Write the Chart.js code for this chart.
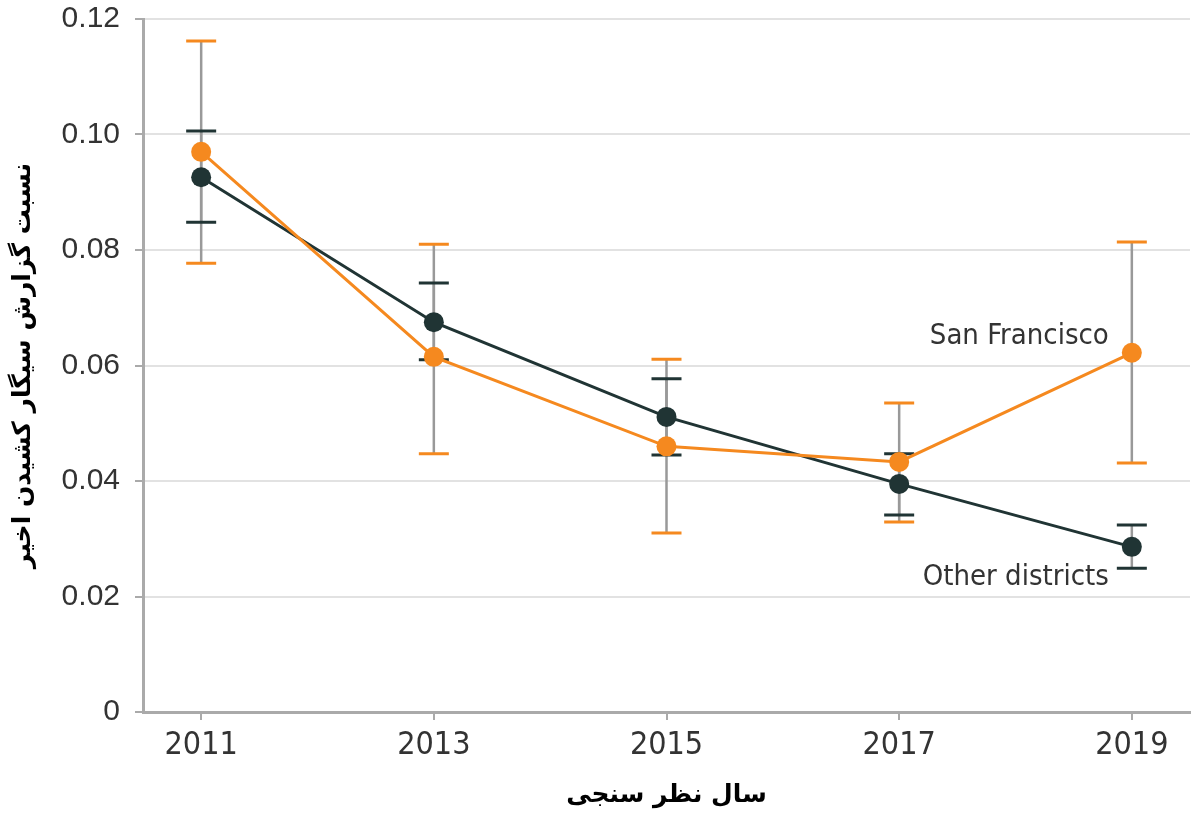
<!DOCTYPE html>
<html>
<head>
<meta charset="utf-8">
<script src="https://cdn.jsdelivr.net/npm/chart.js@4/dist/chart.umd.min.js"></script>
<style>
  body { margin: 0; background: #fff; }
  #wrap { width: 1200px; height: 824px; position: relative; }
</style>
</head>
<body>
<div id="wrap"><canvas id="chart"></canvas></div>
<script>
// survey years
const years = [2011, 2013, 2015, 2017, 2019];

// San Francisco
const sfValues = [0.097, 0.0615, 0.046, 0.0433, 0.0622];
const sfLow    = [0.0777, 0.0447, 0.031, 0.0329, 0.0431];
const sfHigh   = [0.1162, 0.081, 0.0611, 0.0535, 0.0814];

// Other districts
const otherValues = [0.0926, 0.0675, 0.0511, 0.0395, 0.0286];
const otherLow    = [0.0848, 0.061, 0.0445, 0.0341, 0.0249];
const otherHigh   = [0.1006, 0.0743, 0.0577, 0.0447, 0.0324];

const yTicks = [0, 0.02, 0.04, 0.06, 0.08, 0.10, 0.12];

const ORANGE = '#f5891f';
const DARK = '#203434';

const toPoints = vals => years.map((y, i) => ({ x: y, y: vals[i] }));

// error bars: gray stem, caps in series colour
const errorBars = {
  id: 'errorBars',
  beforeDatasetsDraw(chart) {
    const { ctx, scales: { x, y } } = chart;
    const sets = [
      { lo: sfLow, hi: sfHigh, color: ORANGE },
      { lo: otherLow, hi: otherHigh, color: DARK }
    ];
    ctx.save();
    sets.forEach(s => {
      years.forEach((yr, i) => {
        const px = x.getPixelForValue(yr);
        const top = y.getPixelForValue(s.hi[i]);
        const bot = y.getPixelForValue(s.lo[i]);
        ctx.strokeStyle = '#999';
        ctx.lineWidth = 2.5;
        ctx.beginPath();
        ctx.moveTo(px, top);
        ctx.lineTo(px, bot);
        ctx.stroke();
        ctx.strokeStyle = s.color;
        ctx.lineWidth = 3;
        ctx.beginPath();
        ctx.moveTo(px - 15, top); ctx.lineTo(px + 15, top);
        ctx.moveTo(px - 15, bot); ctx.lineTo(px + 15, bot);
        ctx.stroke();
      });
    });
    ctx.restore();
  }
};

// series labels next to the 2019 points
const seriesLabels = {
  id: 'seriesLabels',
  afterDatasetsDraw(chart) {
    const { ctx, scales: { x, y } } = chart;
    const last = years.length - 1;
    const px = x.getPixelForValue(years[last]);
    ctx.save();
    ctx.font = '29px "Liberation Sans Narrow", "DejaVu Sans Condensed", sans-serif';
    ctx.fillStyle = '#333';
    ctx.textAlign = 'right';
    ctx.textBaseline = 'middle';
    ctx.fillText('San Francisco', px - 23, y.getPixelForValue(sfValues[last]) - 16);
    ctx.fillText('Other districts', px - 23, y.getPixelForValue(otherValues[last]) + 31);
    ctx.restore();
  }
};

new Chart(document.getElementById('chart'), {
  type: 'line',
  data: {
    datasets: [
      {
        label: 'San Francisco',
        data: toPoints(sfValues),
        borderColor: ORANGE,
        backgroundColor: ORANGE,
        borderWidth: 3,
        pointRadius: 10,
        pointHoverRadius: 10,
        pointBorderWidth: 0,
        order: 1
      },
      {
        label: 'Other districts',
        data: toPoints(otherValues),
        borderColor: DARK,
        backgroundColor: DARK,
        borderWidth: 3,
        pointRadius: 10,
        pointHoverRadius: 10,
        pointBorderWidth: 0,
        order: 2
      }
    ]
  },
  options: {
    responsive: true,
    maintainAspectRatio: false,
    animation: false,
    layout: { padding: { top: 19, right: 10, left: 0, bottom: 0 } },
    plugins: {
      legend: { display: false },
      tooltip: { enabled: false }
    },
    scales: {
      x: {
        type: 'linear',
        min: 2010.5,
        max: 2019.5,
        afterBuildTicks: scale => { scale.ticks = years.map(v => ({ value: v })); },
        afterFit: scale => { scale.height = 112; },
        grid: { drawOnChartArea: false, drawTicks: true, tickLength: 8, color: '#aaa', lineWidth: 2 },
        border: { color: '#aaa', width: 3 },
        ticks: {
          callback: v => String(v),
          color: '#333',
          padding: 6,
          font: { family: '"Liberation Sans Narrow", "DejaVu Sans Condensed", sans-serif', size: 32 }
        },
        title: {
          display: true,
          text: 'سال نظر سنجی',
          color: '#000',
          padding: { top: 4, bottom: 14 },
          font: { family: '"DejaVu Sans", sans-serif', size: 25, weight: 'bold' }
        }
      },
      y: {
        min: 0,
        max: 0.12,
        afterBuildTicks: scale => { scale.ticks = yTicks.map(v => ({ value: v })); },
        afterFit: scale => { scale.width = 143; },
        grid: { color: '#e2e2e2', lineWidth: 2, tickLength: 8, tickColor: '#aaa' },
        border: { color: '#aaa', width: 3 },
        ticks: {
          callback: v => (v === 0 ? '0' : v.toFixed(2)),
          color: '#333',
          padding: 15,
          font: { family: '"Liberation Sans", Arial, sans-serif', size: 30, lineHeight: 0.2 }
        },
        title: {
          display: true,
          text: 'نسبت گزارش سیگار کشیدن اخیر',
          color: '#000',
          padding: { top: 8, bottom: 4 },
          font: { family: '"DejaVu Sans", sans-serif', size: 25, weight: 'bold' }
        }
      }
    }
  },
  plugins: [errorBars, seriesLabels]
});
</script>
</body>
</html>
